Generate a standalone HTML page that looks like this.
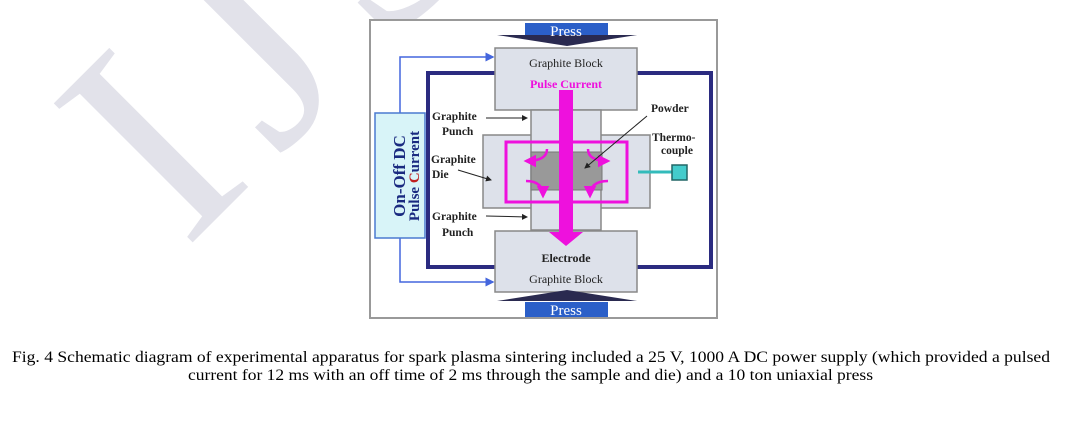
<!DOCTYPE html>
<html><head><meta charset="utf-8"><style>
html,body{margin:0;padding:0;background:#fff;width:1071px;height:423px;overflow:hidden}
</style></head><body>
<svg width="1071" height="423" xmlns="http://www.w3.org/2000/svg" style="position:absolute;left:0;top:0">
<defs>
<marker id="ar" markerWidth="6" markerHeight="6" refX="5" refY="3" orient="auto"><path d="M0,0 L6,3 L0,6 z" fill="#222"/></marker>
<marker id="ab" markerWidth="6" markerHeight="6" refX="5" refY="3" orient="auto"><path d="M0,0 L6,3 L0,6 z" fill="#4466dd"/></marker>
<marker id="am" markerWidth="5" markerHeight="5" refX="4" refY="2.5" orient="auto"><path d="M0,0 L5,2.5 L0,5 z" fill="#ee11dd"/></marker>
</defs>
<!-- watermark -->
<g fill="#e2e2ea" font-family="Liberation Serif, serif" font-size="300">
<text x="0" y="0" letter-spacing="30" transform="translate(185,250) rotate(-45)">IJS</text>
</g>
<!-- frame -->
<rect x="370" y="20" width="347" height="298" fill="#fff" stroke="#999" stroke-width="2"/>
<!-- navy loop -->
<rect x="428" y="73" width="283" height="194" fill="none" stroke="#2b2b80" stroke-width="4"/>
<!-- blue wires -->
<polyline points="400,113 400,57 493,57" fill="none" stroke="#4466dd" stroke-width="1.5" marker-end="url(#ab)"/>
<polyline points="400,238 400,282 493,282" fill="none" stroke="#4466dd" stroke-width="1.5" marker-end="url(#ab)"/>
<!-- power box -->
<rect x="375" y="113" width="50" height="125" fill="#d8f4f8" stroke="#4a7ad0" stroke-width="1.5"/>
<text transform="translate(405,176) rotate(-90)" text-anchor="middle" font-family="Liberation Serif, serif" font-weight="bold" font-size="17" fill="#1a2a80">On-Off DC</text>
<text transform="translate(419,176) rotate(-90)" text-anchor="middle" font-family="Liberation Serif, serif" font-weight="bold" font-size="15" fill="#1a2a80">Pulse <tspan fill="#c02020">C</tspan>urrent</text>
<!-- blocks -->
<rect x="495" y="48" width="142" height="62" fill="#dde1ea" stroke="#888" stroke-width="1.5"/>
<rect x="495" y="231" width="142" height="61" fill="#dde1ea" stroke="#888" stroke-width="1.5"/>
<rect x="483" y="135" width="167" height="73" fill="#dde1ea" stroke="#888" stroke-width="1.5"/>
<rect x="531" y="110" width="70" height="120" fill="#dde1ea" stroke="#888" stroke-width="1.5"/>
<rect x="531" y="152" width="71" height="38" fill="#999" stroke="#777"/>
<rect x="506" y="142" width="121" height="60" fill="none" stroke="#ee11dd" stroke-width="3"/>
<!-- magenta curls -->
<g fill="none" stroke="#ee11dd" stroke-width="2.5">
<path d="M547,149 Q547,161 526,161" marker-end="url(#am)"/>
<path d="M588,149 Q588,161 608,161" marker-end="url(#am)"/>
<path d="M526,181 Q543,181 543,196" marker-end="url(#am)"/>
<path d="M608,181 Q590,181 590,196" marker-end="url(#am)"/>
</g>
<!-- big arrow -->
<rect x="559" y="90" width="14" height="143" fill="#ee11dd"/>
<polygon points="549,232 583,232 566,246" fill="#ee11dd"/>
<!-- thermocouple -->
<line x1="638" y1="172" x2="672" y2="172" stroke="#33bbbb" stroke-width="3"/>
<rect x="672" y="165" width="15" height="15" fill="#44cccc" stroke="#226666" stroke-width="1.5"/>
<!-- press -->
<rect x="525" y="23" width="83" height="15" fill="#2b5fc8"/>
<polygon points="497,35 637,35 567,46" fill="#2a2a50"/>
<text x="566" y="36" text-anchor="middle" font-family="Liberation Serif, serif" font-size="15" fill="#fff">Press</text>
<polygon points="497,301 637,301 567,290" fill="#2a2a50"/>
<rect x="525" y="302" width="83" height="15" fill="#2b5fc8"/>
<text x="566" y="315" text-anchor="middle" font-family="Liberation Serif, serif" font-size="15" fill="#fff">Press</text>
<!-- labels -->
<g font-family="Liberation Serif, serif" font-size="12" fill="#222">
<text x="566" y="67" text-anchor="middle">Graphite Block</text>
<text x="566" y="88" text-anchor="middle" font-weight="bold" fill="#ee11dd">Pulse Current</text>
<text x="566" y="262" text-anchor="middle" font-weight="bold">Electrode</text>
<text x="566" y="283" text-anchor="middle">Graphite Block</text>
<g font-weight="bold" font-size="11.5">
<text x="432" y="120">Graphite</text><text x="442" y="135">Punch</text>
<text x="431" y="163">Graphite</text><text x="432" y="178">Die</text>
<text x="432" y="220">Graphite</text><text x="442" y="236">Punch</text>
<text x="651" y="112">Powder</text>
<text x="652" y="141">Thermo-</text><text x="661" y="154">couple</text>
</g>
</g>
<g stroke="#222" stroke-width="1" fill="none">
<line x1="486" y1="118" x2="527" y2="118" marker-end="url(#ar)"/>
<line x1="486" y1="216" x2="527" y2="217" marker-end="url(#ar)"/>
<line x1="458" y1="170" x2="491" y2="180" marker-end="url(#ar)"/>
<line x1="647" y1="116" x2="585" y2="168" marker-end="url(#ar)"/>
</g>
<!-- caption -->
<g font-family="Liberation Serif, serif" font-size="16" fill="#000">
<text x="12" y="362" textLength="1038" lengthAdjust="spacingAndGlyphs">Fig. 4 Schematic diagram of experimental apparatus for spark plasma sintering included a 25 V, 1000 A DC power supply (which provided a pulsed</text>
<text x="188" y="380" textLength="685" lengthAdjust="spacingAndGlyphs">current for 12 ms with an off time of 2 ms through the sample and die) and a 10 ton uniaxial press</text>
</g>
</svg>
</body></html>
